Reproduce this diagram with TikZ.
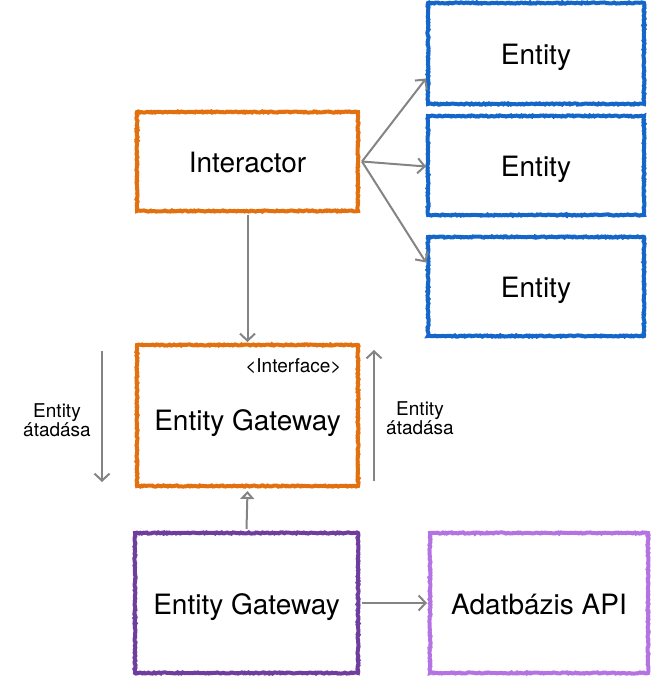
\documentclass[tikz,border=0pt]{standalone}
\usepackage{fontspec}
\setmainfont{TeX Gyre Heros}
\usetikzlibrary{arrows.meta,decorations.pathmorphing,calc}
\definecolor{corange}{HTML}{E2700F}
\definecolor{cblue}{HTML}{1466C8}
\definecolor{cpurple}{HTML}{6E3D9E}
\definecolor{clilac}{HTML}{B472E2}
\definecolor{carrow}{HTML}{848484}
\tikzset{
  sketchbox/.style={draw=#1, line width=4pt, rectangle, inner sep=0pt,
    decorate, decoration={random steps, segment length=1.5pt, amplitude=0.6pt},
    font=\fontsize{28}{32}\selectfont, text=black, text height=23pt, text depth=1pt},
  conn/.style={draw=carrow, line width=2pt, -{Straight Barb[length=7pt,width=15pt,line width=2pt]}},
  realize/.style={draw=carrow, line width=2pt, -{Triangle[open,length=8pt,width=14pt,line width=2pt]}},
  smalltext/.style={font=\fontsize{19}{22}\selectfont, align=center, text=black}
}
\begin{document}
\begin{tikzpicture}[x=1pt,y=-1pt]
\useasboundingbox (0,0) rectangle (652,677);
\node[sketchbox=corange, minimum width=221pt, minimum height=99pt] (I) at (247.5,161.5) {Interactor};
\node[sketchbox=cblue, minimum width=216pt, minimum height=101pt] (E1) at (536,53.5) {Entity};
\node[sketchbox=cblue, minimum width=216pt, minimum height=99pt] (E2) at (536,165.5) {Entity};
\node[sketchbox=cblue, minimum width=216pt, minimum height=99pt] (E3) at (536,286.5) {Entity};
\node[sketchbox=corange, minimum width=221pt, minimum height=141pt] (G1) at (247.5,415.5) {};
\node[font=\fontsize{28}{32}\selectfont] (G1t) at (247.5,423) {Entity Gateway};
\node[smalltext, anchor=east] (If) at (345,366) {\textless Interface\textgreater};
\node[sketchbox=cpurple, minimum width=223pt, minimum height=140pt] (G2) at (246.5,603) {Entity Gateway};
\node[sketchbox=clilac, minimum width=218pt, minimum height=140pt] (API) at (539,603) {Adatbázis API};
\coordinate (Ls) at (102,351);
\coordinate (Le) at (102,482);
\coordinate (Rs) at (374,481);
\coordinate (Re) at (374,350);
\node[smalltext] (Lt) at (57,420) {Entity\\[-3pt]átadása};
\node[smalltext] (Rt) at (420,418) {Entity\\[-3pt]átadása};
\draw[conn] ([xshift=2pt]I.east) -- ([yshift=-25pt]E1.west);
\draw[conn] ([xshift=2pt]I.east) -- ([yshift=-1pt]E2.west);
\draw[conn] ([xshift=2pt]I.east) -- ([yshift=24pt]E3.west);
\draw[conn] ([yshift=-2pt]I.south) -- ([yshift=1pt]G1.north);
\draw[conn] (Ls) -- (Le);
\draw[conn] (Rs) -- (Re);
\draw[realize] ([yshift=2pt]G2.north) -- ([yshift=-3pt]G1.south);
\draw[conn] ([xshift=2pt]G2.east) -- ([xshift=-1pt]API.west);
\end{tikzpicture}
\end{document}
